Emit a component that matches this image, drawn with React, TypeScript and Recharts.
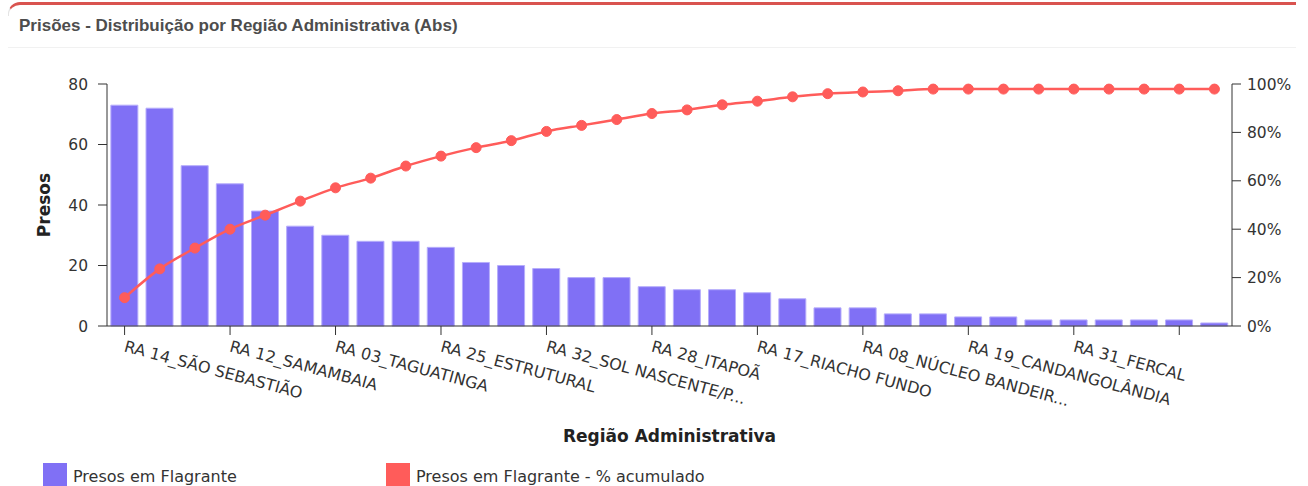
/**
 * Prisões por Região Administrativa (Pareto)
 *
 * Barras = presos em flagrante, linha = % acumulado (eixo direito).
 */

import { ComposedChart, Bar, Line, XAxis, YAxis, Label } from 'recharts'

const categories = [
  'RA 14_SÃO SEBASTIÃO',
  'RA 09_CEILÂNDIA',
  'RA 01_PLANO PILOTO',
  'RA 12_SAMAMBAIA',
  'RA 06_PLANALTINA',
  'RA 15_RECANTO DAS EMAS',
  'RA 03_TAGUATINGA',
  'RA 13_SANTA MARIA',
  'RA 02_GAMA',
  'RA 25_ESTRUTURAL',
  'RA 07_PARANOÁ',
  'RA 05_SOBRADINHO',
  'RA 32_SOL NASCENTE/PÔR DO SOL',
  'RA 04_BRAZLÂNDIA',
  'RA 10_GUARÁ',
  'RA 28_ITAPOÃ',
  'RA 30_VICENTE PIRES',
  'RA 26_SOBRADINHO II',
  'RA 17_RIACHO FUNDO',
  'RA 21_RIACHO FUNDO II',
  'RA 20_ÁGUAS CLARAS',
  'RA 08_NÚCLEO BANDEIRANTE',
  'RA 11_CRUZEIRO',
  'RA 29_SIA',
  'RA 19_CANDANGOLÂNDIA',
  'RA 23_VARJÃO',
  'RA 33_ARNIQUEIRA',
  'RA 31_FERCAL',
  'RA 22_SUDOESTE/OCTOGONAL',
  'RA 27_JARDIM BOTÂNICO',
  'RA 18_LAGO NORTE',
  'RA 16_LAGO SUL',
]

const presos = [
  73, 72, 53, 47, 38, 33, 30, 28, 28, 26, 21, 20, 19, 16, 16, 13,
  12, 12, 11, 9, 6, 6, 4, 4, 3, 3, 2, 2, 2, 2, 2, 1,
]

// % acumulado
const acumulado = [
  11.7, 23.6, 32.2, 40, 45.8, 51.6, 57.1, 61.1, 66.1, 70.2, 73.7, 76.6,
  80.4, 82.9, 85.3, 87.8, 89.3, 91.4, 92.9, 94.7, 96.0, 96.7, 97.2, 97.9,
  97.9, 97.9, 97.9, 97.9, 97.9, 97.9, 97.9, 97.9,
]

const leftTicks = [0, 20, 40, 60, 80]
const rightTicks = [0, 20, 40, 60, 80, 100]

// rótulo do último tick fica cortado no original
const unlabeledTicks = ['RA 18_LAGO NORTE']

const BAR_COLOR = '#8070f5'
const LINE_COLOR = '#ff5c5a'
const AXIS_COLOR = '#333'
const FONT = '"DejaVu Sans", Verdana, sans-serif'

const data = categories.map((name, i) => ({
  name,
  presos: presos[i],
  acumulado: acumulado[i],
}))

function shortLabel(value: string) {
  if (unlabeledTicks.includes(value)) return ''
  return value.length > 20 ? value.slice(0, 20) + '...' : value
}

function RegionTick({ x, y, payload }: any) {
  return (
    <g transform={`translate(${x},${y})`}>
      <text
        x={2.4}
        y={14}
        transform="rotate(15)"
        textAnchor="start"
        fill={AXIS_COLOR}
        fontSize={16}
        fontFamily={FONT}
      >
        {shortLabel(payload.value)}
      </text>
    </g>
  )
}

function ChartLegend() {
  const items = [
    { label: 'Presos em Flagrante', color: BAR_COLOR, left: 43 },
    { label: 'Presos em Flagrante - % acumulado', color: LINE_COLOR, left: 386 },
  ]
  return (
    <>
      {items.map((item) => (
        <div key={item.label}>
          <span
            style={{
              position: 'absolute',
              top: 463,
              left: item.left,
              width: 24,
              height: 24,
              background: item.color,
            }}
          />
          <span
            style={{
              position: 'absolute',
              top: 469,
              left: item.left + 30,
              fontFamily: FONT,
              fontSize: 16,
              lineHeight: '16px',
              color: '#333',
              whiteSpace: 'nowrap',
            }}
          >
            {item.label}
          </span>
        </div>
      ))}
    </>
  )
}

function CardHeader() {
  return (
    <>
      <div
        style={{
          position: 'absolute',
          top: 2,
          left: 8,
          width: 1288,
          height: 14,
          borderTop: '3px solid #d9534f',
          borderLeft: '1px solid #e4e4e4',
          borderTopLeftRadius: 12,
          boxSizing: 'border-box',
        }}
      />
      <div
        style={{
          position: 'absolute',
          left: 19,
          top: 16,
          fontFamily: '"Liberation Sans", Arial, sans-serif',
          fontWeight: 'bold',
          fontSize: 17,
          lineHeight: '20px',
          color: '#4d4d4d',
          whiteSpace: 'nowrap',
        }}
      >
        Prisões - Distribuição por Região Administrativa (Abs)
      </div>
      <div
        style={{
          position: 'absolute',
          top: 47,
          left: 8,
          width: 1288,
          height: 1,
          background: '#f1f1f1',
        }}
      />
    </>
  )
}

export default function App() {
  return (
    <div
      style={{
        position: 'fixed',
        top: 0,
        left: 0,
        width: 1308,
        height: 486,
        overflow: 'hidden',
        background: '#fff',
      }}
    >
      <ComposedChart
        width={1308}
        height={486}
        data={data}
        margin={{ top: 84, right: 0, bottom: 0, left: 0 }}
        barCategoryGap="11%"
        style={{ fontFamily: FONT }}
      >
        <XAxis
          dataKey="name"
          interval={2}
          height={160}
          tickSize={9}
          stroke={AXIS_COLOR}
          tick={<RegionTick />}
        >
          <Label
            value="Região Administrativa"
            position="insideBottom"
            offset={44}
            style={{ fontWeight: 'bold', fontSize: 17, fill: '#222', fontFamily: FONT }}
          />
        </XAxis>
        <YAxis
          yAxisId="left"
          width={107}
          domain={[0, 80]}
          ticks={leftTicks}
          tickSize={9}
          tickMargin={10}
          stroke={AXIS_COLOR}
          tick={{ fill: AXIS_COLOR, fontSize: 15.5 }}
        >
          <Label
            value="Presos"
            angle={-90}
            position="insideLeft"
            offset={44}
            style={{ textAnchor: 'middle', fontWeight: 'bold', fontSize: 17, fill: '#222', fontFamily: FONT }}
          />
        </YAxis>
        <YAxis
          yAxisId="right"
          orientation="right"
          width={76}
          domain={[0, 100]}
          ticks={rightTicks}
          tickFormatter={(v) => `${v}%`}
          tickSize={9}
          tickMargin={6}
          stroke={AXIS_COLOR}
          tick={{ fill: AXIS_COLOR, fontSize: 15.5 }}
        />
        <Bar
          yAxisId="left"
          dataKey="presos"
          name="Presos em Flagrante"
          fill={BAR_COLOR}
          stroke="#b6adfb"
          strokeWidth={1}
          isAnimationActive={false}
        />
        <Line
          yAxisId="right"
          type="monotone"
          dataKey="acumulado"
          name="Presos em Flagrante - % acumulado"
          stroke={LINE_COLOR}
          strokeWidth={2.5}
          dot={{ r: 5, fill: LINE_COLOR, stroke: LINE_COLOR, strokeWidth: 1 }}
          isAnimationActive={false}
        />
      </ComposedChart>

      <CardHeader />
      <ChartLegend />
    </div>
  )
}
